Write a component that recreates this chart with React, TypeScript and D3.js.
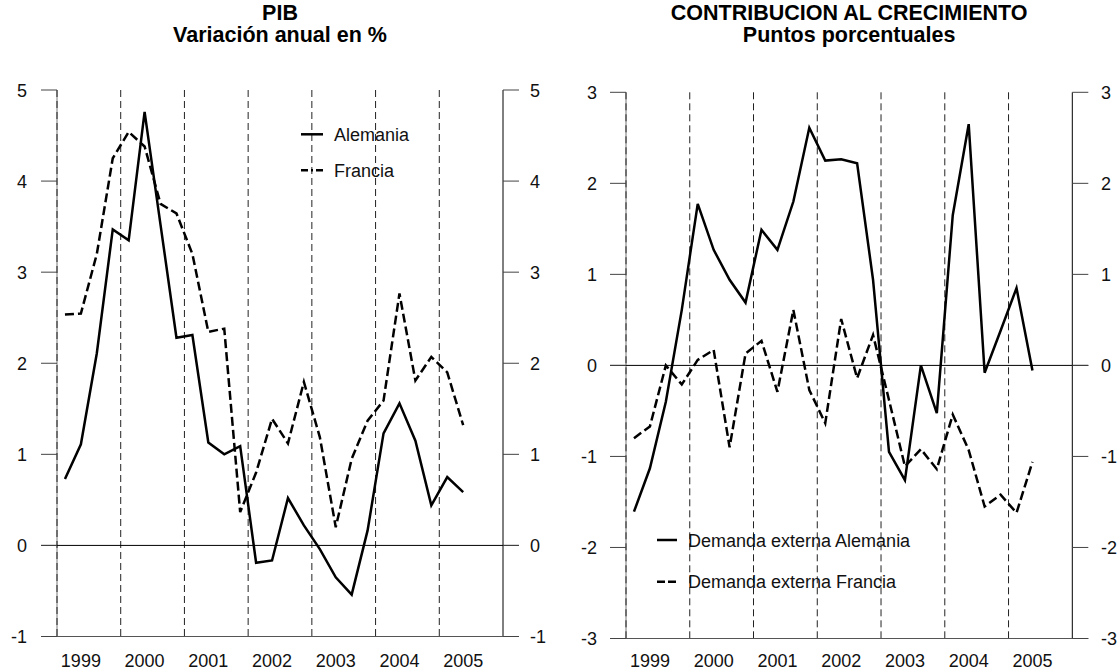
import React from "react";
import * as d3 from "d3";

const years = ["1999", "2000", "2001", "2002", "2003", "2004", "2005"];

const pibAlemania = [0.73, 1.11, 2.11, 3.47, 3.35, 4.76, 3.52, 2.28, 2.31, 1.13, 1.0, 1.09, -0.19, -0.165, 0.52, 0.22, -0.04, -0.35, -0.54, 0.165, 1.23, 1.56, 1.15, 0.44, 0.75, 0.585];
const pibFrancia = [2.535, 2.546, 3.2, 4.25, 4.54, 4.38, 3.75, 3.645, 3.2, 2.345, 2.38, 0.366, 0.8, 1.39, 1.12, 1.795, 1.19, 0.2, 0.95, 1.37, 1.59, 2.766, 1.81, 2.07, 1.9, 1.32];

const contribAlemania = [-1.607, -1.13, -0.4, 0.61, 1.775, 1.27, 0.94, 0.69, 1.49, 1.27, 1.8, 2.61, 2.25, 2.265, 2.22, 0.94, -0.95, -1.26, 0.0, -0.525, 1.65, 2.65, -0.08, 0.38, 0.85, -0.057];
const contribFrancia = [-0.8, -0.67, 0.0, -0.21, 0.06, 0.17, -0.9, 0.13, 0.27, -0.29, 0.61, -0.27, -0.635, 0.51, -0.14, 0.335, -0.38, -1.11, -0.92, -1.14, -0.54, -0.93, -1.55, -1.42, -1.62, -1.06];

const pibTicks = [-1, 0, 1, 2, 3, 4, 5];
const contribTicks = [-3, -2, -1, 0, 1, 2, 3];

const FONT = "'Liberation Sans', Arial, Helvetica, sans-serif";

type PanelProps = {
  x0: number;
  x1: number;
  yTop: number;
  yBottom: number;
  domain: [number, number];
  ticks: number[];
  seriesA: number[];
  seriesB: number[];
  title1: string;
  title2: string;
  legendA: string;
  legendB: string;
  legendX: number;
  legendYA: number;
  legendYB: number;
  legendLen: number;
  legendDashB: string;
  leftLabelX: number;
  rightLabelX: number;
};

function Panel(p: PanelProps) {
  const nQ = years.length * 4;
  const x = d3.scaleLinear().domain([0, nQ]).range([p.x0, p.x1]);
  const y = d3.scaleLinear().domain(p.domain).range([p.yBottom, p.yTop]);
  const line = d3
    .line<number>()
    .x((_, i) => x(i + 0.5))
    .y((d) => y(d));
  const tickLen = 16;
  const cx = (p.x0 + p.x1) / 2;
  const yearLines = d3.range(0, years.length + 1).map((k) => k * 4);
  return (
    <g>
      <text x={cx} y={20} textAnchor="middle" fontFamily={FONT} fontWeight="bold" fontSize={21.5}>
        {p.title1}
      </text>
      <text x={cx} y={42} textAnchor="middle" fontFamily={FONT} fontWeight="bold" fontSize={21.5}>
        {p.title2}
      </text>
      {/* left axis (gray) */}
      <line x1={p.x0} x2={p.x0} y1={y(p.domain[1])} y2={y(p.domain[0])} stroke="#777" strokeWidth={1} />
      {/* year separators */}
      {yearLines.slice(0, years.length).map((q) => (
        <line
          key={"v" + q}
          x1={x(q)}
          x2={x(q)}
          y1={y(p.domain[1])}
          y2={y(p.domain[0])}
          stroke="#222"
          strokeWidth={1}
          strokeDasharray="7,4"
        />
      ))}
      {/* right axis */}
      <line x1={p.x1} x2={p.x1} y1={y(p.domain[1])} y2={y(p.domain[0])} stroke="#000" strokeWidth={1} />
      {/* bottom axis */}
      <line x1={p.x0 - tickLen} x2={p.x1 + tickLen} y1={y(p.domain[0])} y2={y(p.domain[0])} stroke="#555" strokeWidth={1} />
      {/* zero line */}
      <line x1={p.x0 - tickLen} x2={p.x1 + tickLen} y1={y(0)} y2={y(0)} stroke="#000" strokeWidth={1} />
      {p.ticks.map((t) => (
        <g key={"t" + t}>
          <line x1={p.x0 - tickLen} x2={p.x0} y1={y(t)} y2={y(t)} stroke="#444" strokeWidth={1} />
          <line x1={p.x1} x2={p.x1 + tickLen} y1={y(t)} y2={y(t)} stroke="#444" strokeWidth={1} />
          <text x={p.leftLabelX} y={y(t) + 6.5} textAnchor="end" fontFamily={FONT} fontSize={18} fill="#111">
            {t}
          </text>
          <text x={p.rightLabelX} y={y(t) + 6.5} textAnchor="start" fontFamily={FONT} fontSize={18} fill="#111">
            {t}
          </text>
        </g>
      ))}
      {years.map((yr, k) => (
        <text
          key={yr}
          x={x(k * 4 + 1.5)}
          y={667}
          textAnchor="middle"
          fontFamily={FONT}
          fontSize={18}
          fill="#111"
        >
          {yr}
        </text>
      ))}
      <path d={line(p.seriesA) || ""} fill="none" stroke="#000" strokeWidth={2.5} strokeLinejoin="miter" />
      <path
        d={line(p.seriesB) || ""}
        fill="none"
        stroke="#000"
        strokeWidth={2.5}
        strokeDasharray="9,4"
        strokeLinejoin="miter"
      />
      {/* legend */}
      <line x1={p.legendX} x2={p.legendX + p.legendLen} y1={p.legendYA} y2={p.legendYA} stroke="#000" strokeWidth={2.5} />
      <text x={p.legendX + p.legendLen + 11} y={p.legendYA + 6.5} fontFamily={FONT} fontSize={18} fill="#111">
        {p.legendA}
      </text>
      <line
        x1={p.legendX}
        x2={p.legendX + p.legendLen}
        y1={p.legendYB}
        y2={p.legendYB}
        stroke="#000"
        strokeWidth={2.5}
        strokeDasharray={p.legendDashB}
      />
      <text x={p.legendX + p.legendLen + 11} y={p.legendYB + 6.5} fontFamily={FONT} fontSize={18} fill="#111">
        {p.legendB}
      </text>
    </g>
  );
}

export default function App() {
  return (
    <svg width={1117} height={672} style={{ position: "absolute", left: 0, top: 0, background: "#fff" }}>
      <rect x={0} y={0} width={1117} height={672} fill="#fff" />
      <Panel
        x0={57}
        x1={503}
        yTop={90}
        yBottom={636.5}
        domain={[-1, 5]}
        ticks={pibTicks}
        seriesA={pibAlemania}
        seriesB={pibFrancia}
        title1="PIB"
        title2="Variación anual en %"
        legendA="Alemania"
        legendB="Francia"
        legendX={301}
        legendYA={134.3}
        legendYB={170.3}
        legendLen={22}
        legendDashB="7,3,2,3,7"
        leftLabelX={27}
        rightLabelX={530}
      />
      <Panel
        x0={626}
        x1={1072.3}
        yTop={92.3}
        yBottom={638.5}
        domain={[-3, 3]}
        ticks={contribTicks}
        seriesA={contribAlemania}
        seriesB={contribFrancia}
        title1="CONTRIBUCION AL CRECIMIENTO"
        title2="Puntos porcentuales"
        legendA="Demanda externa Alemania"
        legendB="Demanda externa Francia"
        legendX={657}
        legendYA={540}
        legendYB={581.7}
        legendLen={20}
        legendDashB="8,3"
        leftLabelX={597}
        rightLabelX={1101}
      />
    </svg>
  );
}
